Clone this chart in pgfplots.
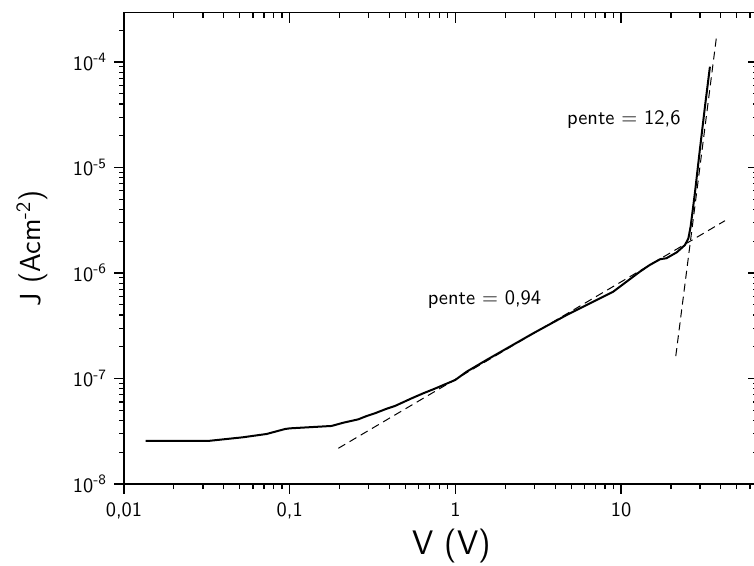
\documentclass[border=0pt]{standalone}
\usepackage{pgfplots}
\pgfplotsset{compat=1.18}
\renewcommand{\familydefault}{\sfdefault}
\pgfplotstableread{
x y
0.01352 2.57e-8
0.033 2.57e-8
0.052 2.77e-8
0.0726 2.98e-8
0.0937 3.32e-8
0.1004 3.37e-8
0.179 3.55e-8
0.2107 3.81e-8
0.2594 4.10e-8
0.2915 4.41e-8
0.327 4.68e-8
0.385 5.17e-8
0.432 5.49e-8
0.545 6.49e-8
0.640 7.24e-8
0.736 7.90e-8
0.998 9.68e-8
1.17 1.16e-7
1.545 1.50e-7
2.95 2.68e-7
4.70 4.00e-7
6.49 5.16e-7
8.97 6.65e-7
13.0 1.03e-6
14.9 1.19e-6
17.2 1.35e-6
18.8 1.38e-6
21.7 1.57e-6
24.3 1.84e-6
25.5 2.13e-6
26.3 2.75e-6
27.9 5.69e-6
29.9 1.47e-5
32.1 3.77e-5
34.4 9.02e-5
}\jv
\begin{document}
\begin{tikzpicture}
\begin{axis}[
  xmode=log, ymode=log,
  scale only axis, width=317pt, height=235.65pt,
  xmin=0.01, xmax=67.1, ymin=1e-8, ymax=2.93e-4,
  axis line style={line width=0.75pt},
  major tick length=5pt, minor tick length=2.5pt,
  tick style={line width=0.6pt, black},
  tick align=outside, xtick pos=bottom, ytick pos=left,
  xtick={0.01,0.1,1,10},
  ytick={1e-8,1e-7,1e-6,1e-5,1e-4},
  minor xtick={0.02,0.03,0.04,0.05,0.06,0.07,0.08,0.09,0.2,0.3,0.4,0.5,0.6,0.7,0.8,0.9,2,3,4,5,6,7,8,9,20,30,40,50,60},
  minor ytick={2e-8,3e-8,4e-8,5e-8,6e-8,7e-8,8e-8,9e-8,2e-7,3e-7,4e-7,5e-7,6e-7,7e-7,8e-7,9e-7,2e-6,3e-6,4e-6,5e-6,6e-6,7e-6,8e-6,9e-6,2e-5,3e-5,4e-5,5e-5,6e-5,7e-5,8e-5,9e-5,2e-4},
  xticklabels={{0,01},{0,1},{1},{10}},
  yticklabels={10\textsuperscript{-8},10\textsuperscript{-7},10\textsuperscript{-6},10\textsuperscript{-5},10\textsuperscript{-4}},
  tick label style={font=\sffamily\fontsize{10.2}{12}\selectfont},
  xticklabel style={yshift=-1pt},
  xlabel={V (V)}, ylabel={J (Acm\textsuperscript{-2})},
  xlabel style={font=\sffamily\fontsize{17}{20}\selectfont, at={(rel axis cs:0.517,0)}, anchor=center, yshift=-31pt},
  ylabel style={font=\sffamily\fontsize{14.5}{17}\selectfont, at={(rel axis cs:0,0.5)}, anchor=center, yshift=46pt},
]
\addplot[black, line width=1pt, mark=none] table[x=x,y=y] {\jv};
\addplot[black, line width=0.5pt, dash pattern=on 4pt off 2.5pt, mark=none] coordinates {(0.1966,2.18e-8) (42.4,3.13e-6)};
\addplot[black, line width=0.5pt, dash pattern=on 4pt off 2.5pt, mark=none] coordinates {(21.4,1.63e-7) (37.8,1.80e-4)};
\node[font=\sffamily\fontsize{10.25}{12}\selectfont] at (axis cs:10.4,2.82e-5) {pente = 12,6};
\node[font=\sffamily\fontsize{10.25}{12}\selectfont] at (axis cs:1.50,5.55e-7) {pente = 0,94};
\coordinate (bl) at (rel axis cs:0,0);
\coordinate (tr) at (rel axis cs:1,1);
\end{axis}
\begin{axis}[
  xmode=log, ymode=log,
  scale only axis, width=317pt, height=235.65pt,
  xmin=0.01, xmax=67.1, ymin=1e-8, ymax=2.93e-4,
  axis line style={line width=0.75pt},
  major tick length=5pt, minor tick length=2.5pt,
  tick style={line width=0.6pt, black},
  tick align=inside, xtick pos=top, ytick pos=right,
  xtick={0.01,0.1,1,10},
  ytick={1e-8,1e-7,1e-6,1e-5,1e-4},
  minor xtick={0.02,0.03,0.04,0.05,0.06,0.07,0.08,0.09,0.2,0.3,0.4,0.5,0.6,0.7,0.8,0.9,2,3,4,5,6,7,8,9,20,30,40,50,60},
  xticklabels={}, yticklabels={},
]
\addplot[draw=none, mark=none] coordinates {(1,1e-6) (2,2e-6)};
\end{axis}
\pgfresetboundingbox
\path[use as bounding box] ([xshift=-62pt,yshift=-41pt]bl) rectangle ([xshift=-2pt,yshift=6.35pt]tr);
\end{tikzpicture}
\end{document}
